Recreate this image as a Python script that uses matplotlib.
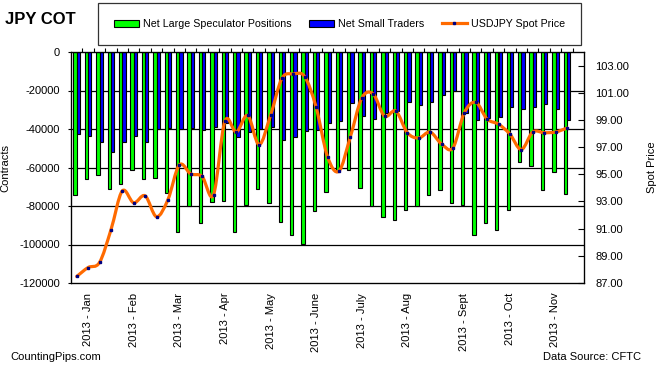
import matplotlib
matplotlib.use('Agg')
import matplotlib.pyplot as plt
import numpy as np
from matplotlib.path import Path
from matplotlib.patches import PathPatch, Patch
from matplotlib.lines import Line2D
from matplotlib.ticker import FormatStrFormatter

plt.rcParams['font.family'] = ['Liberation Sans', 'DejaVu Sans']

# weekly COT data, 2013
large_spec = [-74400, -66200, -64100, -71300, -68700, -61500, -66200, -65600, -73400, -93700,
              -79800, -89000, -78100, -77600, -93700, -79700, -71300, -78600, -88500, -95200,
              -99700, -82800, -72900, -62500, -61500, -70800, -80000, -85900, -87400, -82200,
              -80000, -74400, -71800, -78600, -79700, -95200, -89000, -92600, -82200, -57300,
              -59400, -71800, -62500, -73900]
small_traders = [-42800, -43500, -46600, -52100, -46600, -43500, -46600, -40000, -39600, -40200,
                 -39300, -40500, -38800, -37000, -44300, -41700, -40200, -39100, -45700, -44000,
                 -41200, -40500, -37000, -36000, -26700, -33200, -35000, -31500, -30500, -26100,
                 -27700, -26100, -22500, -20100, -31500, -35500, -34100, -33900, -28700, -29800,
                 -28700, -27200, -29400, -35500]
spot_price = [87.48, 88.14, 88.51, 90.90, 93.78, 92.90, 93.42, 91.88, 93.13, 95.69,
              95.03, 94.84, 93.49, 98.91, 98.11, 99.33, 97.18, 99.33, 102.06, 102.38,
              102.19, 99.94, 96.30, 95.23, 97.74, 100.60, 100.92, 99.28, 99.65, 98.06,
              97.67, 98.11, 97.23, 96.94, 99.53, 100.30, 99.06, 98.69, 97.96, 96.82,
              98.11, 98.06, 98.11, 98.40]
month_pos = [1, 5, 9, 13, 17, 21, 25, 29, 34, 38, 42]
month_labels = ['2013 - Jan', '2013 - Feb', '2013 - Mar', '2013 - Apr', '2013 - May',
                '2013 - June', '2013 - July', '2013 - Aug', '2013 - Sept', '2013 - Oct',
                '2013 - Nov']

green = '#00FF00'
blue = '#0000FF'
orange = '#FF6A00'
navy = '#000080'

W, H = 657, 367
fig = plt.figure(figsize=(W / 100, H / 100), dpi=100)
ax = fig.add_axes([71 / W, 1 - 283 / H, (584 - 71) / W, (283 - 52) / H])

x = np.arange(len(large_spec))
bw = 0.29
ax.bar(x - bw / 2, large_spec, bw, color=green, edgecolor='black', linewidth=0.8, zorder=2)
ax.bar(x + bw / 2, small_traders, bw, color=blue, edgecolor='black', linewidth=0.8, zorder=2)

ax.set_xlim(-0.5, 44.5)
ax.set_ylim(-120000, 0)
ax.set_yticks(np.arange(-120000, 1, 20000))
ax.set_yticklabels([str(v) for v in range(-120000, 1, 20000)])
for v in range(-100000, 0, 20000):
    ax.axhline(v, color='black', lw=0.9, zorder=1)
for s in ax.spines.values():
    s.set_linewidth(0.9)

ax.set_xticks(month_pos)
ax.set_xticklabels(month_labels, rotation=90)
ax.set_xticks(np.arange(0.5, 44, 1), minor=True)
ax.tick_params(axis='x', which='major', length=0, pad=7, labelsize=8)
ax.tick_params(axis='x', which='minor', bottom=False, top=True, direction='out', length=3, width=0.8)
ax.tick_params(axis='y', direction='out', length=2, width=0.8, pad=6, labelsize=8)
ax.set_ylabel('Contracts', fontsize=8)
ax.yaxis.set_label_coords(-(71 - 10) / (584 - 71), 0.5)

ax2 = ax.twinx()
ax2.set_ylim(87, 104)
ax2.set_yticks(np.arange(87, 104, 2))
ax2.yaxis.set_major_formatter(FormatStrFormatter('%.2f'))
ax2.tick_params(axis='y', direction='in', length=4, width=0.8, pad=8, labelsize=8)
ax2.set_ylabel('Spot Price', fontsize=8)
ax2.yaxis.set_label_coords(1 + (647 - 584) / (584 - 71), 0.5)

# smoothed spot price line (cubic Bezier through the weekly points)
px = x.astype(float)
py = np.array(spot_price)
verts = [(px[0], py[0])]
codes = [Path.MOVETO]
n = len(px)
for i in range(n - 1):
    p0 = (px[max(i - 1, 0)], py[max(i - 1, 0)])
    p1 = (px[i], py[i])
    p2 = (px[i + 1], py[i + 1])
    p3 = (px[min(i + 2, n - 1)], py[min(i + 2, n - 1)])
    c1 = (p1[0] + (p2[0] - p0[0]) / 6, p1[1] + (p2[1] - p0[1]) / 6)
    c2 = (p2[0] - (p3[0] - p1[0]) / 6, p2[1] - (p3[1] - p1[1]) / 6)
    verts += [c1, c2, p2]
    codes += [Path.CURVE4] * 3
ax2.add_patch(PathPatch(Path(verts, codes), facecolor='none', edgecolor=orange, lw=2.3,
                        capstyle='round', joinstyle='round', zorder=3))
ax2.plot(px, py, linestyle='none', marker='s', markersize=1.8, color=navy, zorder=4)

fig.text(5 / W, 1 - 19 / H, 'JPY COT', fontsize=12, fontweight='bold', va='center', ha='left')

handles = [Patch(facecolor=green, edgecolor='black', linewidth=0.8),
           Patch(facecolor=blue, edgecolor='black', linewidth=0.8),
           Line2D([], [], color=orange, lw=2.3, marker='s', markersize=1.8, markerfacecolor=navy,
                  markeredgecolor=navy)]
leg = fig.legend(handles, ['Net Large Speculator Positions', 'Net Small Traders', 'USDJPY Spot Price'],
                 loc='upper left', bbox_to_anchor=(98 / W, 1 - 3 / H), ncol=3, fontsize=7.7,
                 frameon=True, fancybox=False, edgecolor='black', borderpad=1.5,
                 borderaxespad=0, columnspacing=1.65, handlelength=2.3, handletextpad=0.4)
leg.get_frame().set_linewidth(0.9)

fig.text(10 / W, 1 - 357 / H, 'CountingPips.com', fontsize=8, va='center', ha='left')
fig.text(641 / W, 1 - 357 / H, 'Data Source: CFTC', fontsize=8, va='center', ha='right')

fig.savefig('out.png', dpi=100)
